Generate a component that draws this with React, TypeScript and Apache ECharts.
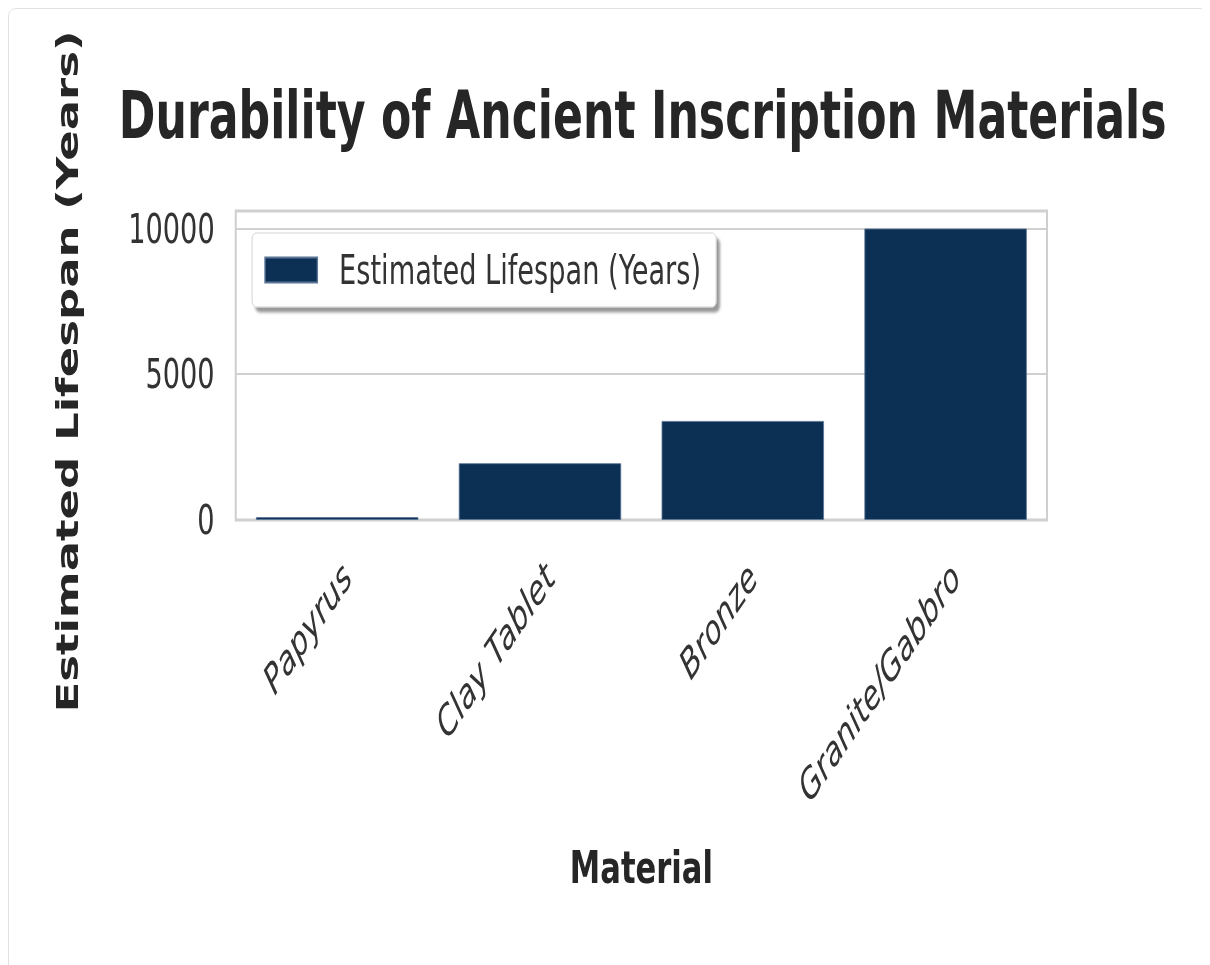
import React, { useEffect, useRef } from "react";
import * as echarts from "echarts";

const categories = ["Papyrus", "Clay Tablet", "Bronze", "Granite/Gabbro"];
const lifespans = [100, 1950, 3400, 10000];
const seriesName = "Estimated Lifespan (Years)";
const titleText = "Durability of Ancient Inscription Materials";
const xAxisName = "Material";
const yAxisName = "Estimated Lifespan (Years)";
const yMin = 0;
const yMax = 10600;
const yInterval = 5000;

const SQUISH = 0.68;
const INNER_W = Math.round(1196 / SQUISH);
const INNER_H = 960;
const FONT = "DejaVu Sans";

export default function App() {
  const ref = useRef<HTMLDivElement>(null);

  useEffect(() => {
    const prev = document.documentElement.style.overflow;
    document.documentElement.style.overflow = "hidden";
    if (!ref.current) return;
    const chart = echarts.init(ref.current, undefined, { renderer: "svg" });
    chart.setOption({
      animation: false,
      backgroundColor: "#ffffff",
      title: {
        text: titleText,
        left: 160,
        top: 73,
        padding: 0,
        textStyle: {
          fontFamily: FONT,
          fontWeight: "bold",
          fontSize: 65,
          color: "#262626",
        },
      },
      legend: {
        left: 356,
        top: 223,
        padding: [17, 22, 17, 18],
        itemWidth: 77,
        itemHeight: 25,
        backgroundColor: "#ffffff",
        borderColor: "#cccccc",
        borderWidth: 1,
        borderRadius: 6,
        shadowColor: "rgba(0,0,0,0.4)",
        shadowBlur: 3,
        shadowOffsetX: 5,
        shadowOffsetY: 5,
        textStyle: {
          fontFamily: FONT,
          fontSize: 40,
          color: "#333333",
          padding: [0, 0, 0, 27],
        },
        data: [{ name: seriesName, icon: "rect" }],
      },
      grid: {
        left: 332,
        right: 234,
        top: 201,
        height: 309,
        show: true,
        borderColor: "#cfcfcf",
        borderWidth: 3,
        backgroundColor: "transparent",
      },
      xAxis: {
        type: "category",
        data: categories,
        axisLine: { show: false },
        axisTick: { show: false },
        axisLabel: {
          interval: 0,
          rotate: 45,
          margin: 64,
          padding: [0, -20, 0, 0],
          fontFamily: FONT,
          fontSize: 41,
          fontStyle: "italic",
          color: "#333333",
        },
        name: xAxisName,
        nameLocation: "middle",
        nameGap: 325,
        nameTextStyle: {
          fontFamily: FONT,
          fontWeight: "bold",
          fontSize: 45,
          color: "#262626",
        },
      },
      yAxis: {
        type: "value",
        min: yMin,
        max: yMax,
        interval: yInterval,
        axisLine: { show: false },
        axisTick: { show: false },
        axisLabel: {
          margin: 31,
          fontFamily: FONT,
          fontSize: 40,
          color: "#333333",
          formatter: (v: number) => (v % yInterval === 0 ? String(v) : ""),
        },
        splitLine: { lineStyle: { color: "#d0d0d0", width: 2 } },
        name: yAxisName,
        nameLocation: "middle",
        nameGap: 225,
        nameRotate: 90,
        nameTextStyle: {
          fontFamily: FONT,
          fontWeight: "bold",
          fontSize: 45,
          color: "#262626",
          padding: [0, 12, 0, 0],
        },
      },
      series: [
        {
          type: "bar",
          name: seriesName,
          data: lifespans,
          barCategoryGap: "20%",
          itemStyle: {
            color: "#0c3054",
            borderColor: "#5b7596",
            borderWidth: 1,
          },
        },
      ],
    });
    return () => {
      chart.dispose();
      document.documentElement.style.overflow = prev;
    };
  }, []);

  return (
    <div
      style={{
        position: "relative",
        width: 1200,
        height: 1000,
        border: "1px solid #e2e2e2",
        borderRadius: 8,
        boxSizing: "border-box",
        overflow: "hidden",
        background: "#ffffff",
      }}
    >
      <div
        ref={ref}
        style={{
          position: "absolute",
          left: 1,
          top: 1,
          width: INNER_W,
          height: INNER_H,
          transform: `scaleX(${SQUISH})`,
          transformOrigin: "0 0",
        }}
      />
    </div>
  );
}
